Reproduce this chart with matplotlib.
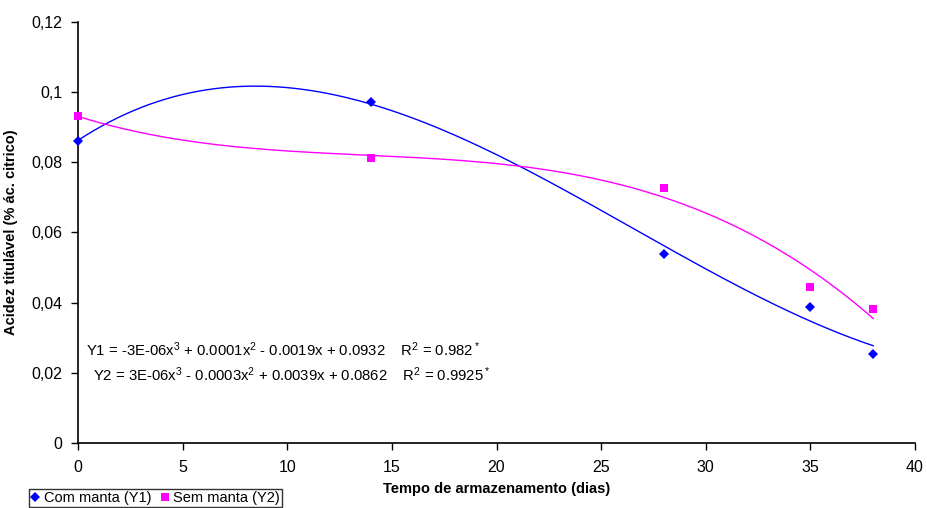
import numpy as np
import matplotlib
matplotlib.use('Agg')
import matplotlib.pyplot as plt

plt.rcParams['font.family'] = ['Liberation Sans', 'DejaVu Sans']
plt.rcParams['mathtext.fontset'] = 'custom'
plt.rcParams['mathtext.rm'] = 'Liberation Sans'
plt.rcParams['mathtext.it'] = 'Liberation Sans'

# storage time (days)
days = [0, 14, 28, 35, 38]
# titratable acidity
com_manta = [0.0861, 0.0972, 0.0539, 0.0388, 0.0254]
sem_manta = [0.0932, 0.0812, 0.0727, 0.0445, 0.0382]

labels = ['Com manta (Y1)', 'Sem manta (Y2)']
colors = ['#0000ff', '#ff00ff']
markers = ['D', 's']

eq1 = r'Y1 = -3E-06x$^3$ + 0.0001x$^2$ - 0.0019x + 0.0932    R$^2$ = 0.982$^*$'
eq2 = r'Y2 = 3E-06x$^3$ - 0.0003x$^2$ + 0.0039x + 0.0862    R$^2$ = 0.9925$^*$'

fig = plt.figure(figsize=(9.27, 5.08), dpi=100)
ax = fig.add_axes([0.0841, 0.128, 0.903, 0.829])

x_fit = np.linspace(min(days), max(days), 200)
handles = []
for y, c, m, lab in zip([com_manta, sem_manta], colors, markers, labels):
    # cubic trend line, as Excel does
    coef = np.polyfit(days, y, 3)
    ax.plot(x_fit, np.polyval(coef, x_fit), color=c, lw=1.0, zorder=2)
    ms = 5 if m == 'D' else 6
    h = ax.plot(days, y, linestyle='none', marker=m, color=c, markersize=ms,
                markeredgewidth=0, label=lab, zorder=3, clip_on=False)[0]
    handles.append(h)

ax.set_xlim(0, 40)
ax.set_ylim(0, 0.12)
ax.set_xticks(range(0, 41, 5))
ax.set_yticks([0, 0.02, 0.04, 0.06, 0.08, 0.1, 0.12])
ax.set_yticklabels(['0', '0,02', '0,04', '0,06', '0,08', '0,1', '0,12'])
ax.tick_params(axis='both', direction='out', length=5, width=1, labelsize=11.5,
               pad=6)
ax.tick_params(axis='x', pad=7)
for s in ['top', 'right']:
    ax.spines[s].set_visible(False)
for s in ['left', 'bottom']:
    ax.spines[s].set_linewidth(1.2)

ax.set_xlabel('Tempo de armazenamento (dias)', fontsize=10.5, fontweight='bold',
              labelpad=5)
ax.set_ylabel('Acidez titulável (% ác. citrico)', fontsize=10.5,
              fontweight='bold', labelpad=10)

ax.text(0.4, 0.0265, eq1, fontsize=10.7, ha='left', va='center')
ax.text(0.7, 0.0195, eq2, fontsize=10.7, ha='left', va='center')

fig.legend(handles=handles, loc='lower left', bbox_to_anchor=(0.031, 0.002),
           ncol=2, frameon=True, fancybox=False, edgecolor='black',
           fontsize=10.5, handlelength=0.6, handletextpad=0.3,
           columnspacing=0.6, borderpad=0.15, borderaxespad=0)

fig.savefig('out.png', dpi=100)
